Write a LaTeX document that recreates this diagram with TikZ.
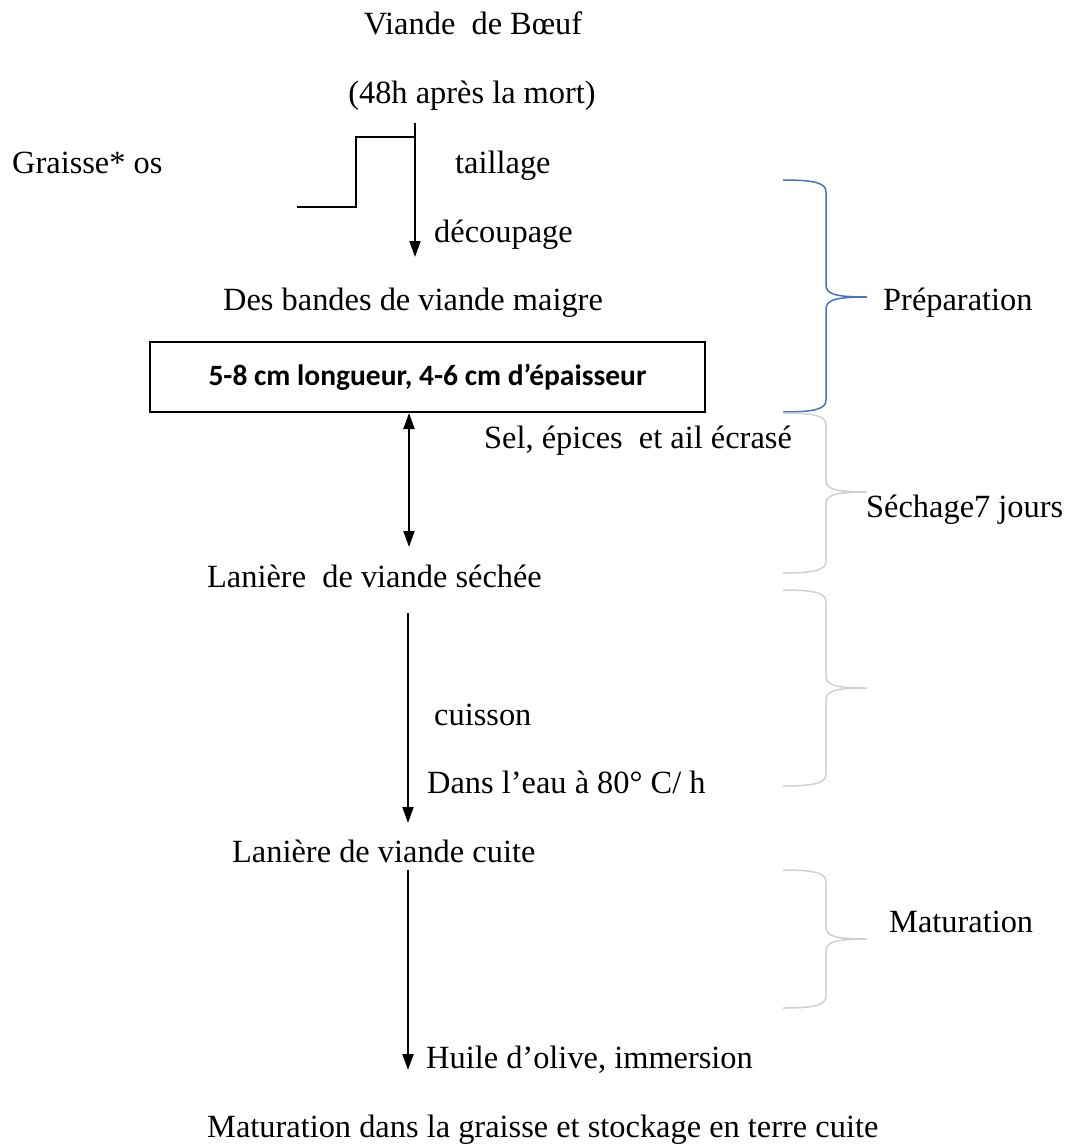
\documentclass[tikz,border=0pt]{standalone}
\usepackage{fontspec}
\setmainfont{Liberation Serif}
\newfontfamily\boxfont{Carlito}
\usetikzlibrary{arrows.meta}
\definecolor{braceblue}{RGB}{68,114,196}
\definecolor{bracegray}{RGB}{208,208,208}
\tikzset{
  lbl/.style={inner sep=0pt, anchor=base west, font=\fontsize{32.4}{38}\selectfont},
  clbl/.style={inner sep=0pt, anchor=base, font=\fontsize{32.4}{38}\selectfont},
  flow/.style={line width=2pt, -{Triangle[length=16pt,width=11pt]}},
  plain/.style={line width=2pt},
  infobox/.style={draw, line width=2pt, minimum width=555pt, minimum height=70pt, inner sep=0pt,
    font=\boxfont\bfseries\fontsize{29.5}{34}\selectfont},
  bluebrace/.style={draw=braceblue, line width=1.5pt},
  graybrace/.style={draw=bracegray, line width=1.5pt}
}
\newcommand{\mybrace}[4]{%
  \draw[#1] (783,#2) .. controls (815,#2) and (826,#2+3) .. (826,#2+12) -- (826,#3-12)
    .. controls (826,#3-3) and (835,#3) .. (867,#3)
    .. controls (835,#3) and (826,#3+3) .. (826,#3+12) -- (826,#4-12)
    .. controls (826,#4-3) and (815,#4) .. (783,#4);}
\begin{document}
\begin{tikzpicture}[x=1pt,y=-1pt]
\useasboundingbox (0,0) rectangle (1068,1145);
% texts
\node[clbl] (beef) at (473,35) {Viande~ de Bœuf};
\node[clbl] (mort) at (472,104) {(48h après la mort)};
\node[lbl] (graisse) at (12,173) {Graisse* os};
\node[lbl] (taillage) at (455,173) {taillage};
\node[lbl] (decoupage) at (434,242) {découpage};
\node[lbl] (bandes) at (223,310) {Des bandes de viande maigre};
\node[infobox] (box) at (427.5,377) {5-8 cm longueur, 4-6 cm d’épaisseur};
\node[lbl] (prep) at (883,310) {Préparation};
\node[lbl] (sel) at (484,448) {Sel, épices~ et ail écrasé};
\node[lbl] (sech) at (866,517) {Séchage7 jours};
\node[lbl] (seche) at (207,587) {Lanière~ de viande séchée};
\node[lbl] (cuisson) at (434,725) {cuisson};
\node[lbl] (eau) at (427,793) {Dans l’eau à 80° C/ h};
\node[lbl] (cuite) at (232,862) {Lanière de viande cuite};
\node[lbl] (matu) at (889,932) {Maturation};
\node[lbl] (huile) at (426,1068) {Huile d’olive, immersion};
\node[lbl] (final) at (207,1137) {Maturation dans la graisse et stockage en terre cuite};
% connectors
\coordinate (a1s) at (415,123);
\coordinate (a1e) at (415,257);
\coordinate (s1) at (415,137);
\coordinate (s2) at (356,137);
\coordinate (s3) at (356,207);
\coordinate (s4) at (297,207);
\coordinate (a2s) at (409,413);
\coordinate (a2e) at (409,547);
\coordinate (a3s) at (408,613);
\coordinate (a3e) at (408,823);
\coordinate (a4s) at (408,870);
\coordinate (a4e) at (408,1070);
\draw[flow] (a1s) -- (a1e);
\draw[plain] (s1) -- (s2) -- (s3) -- (s4);
\draw[line width=2pt, {Triangle[length=16pt,width=11pt]}-{Triangle[length=16pt,width=11pt]}] (a2s) -- (a2e);
\draw[flow] (a3s) -- (a3e);
\draw[flow] (a4s) -- (a4e);
% braces
\mybrace{bluebrace}{180}{297}{412}
\mybrace{graybrace}{413}{492}{573}
\mybrace{graybrace}{590}{688}{786}
\mybrace{graybrace}{870}{939}{1008}
\end{tikzpicture}
\end{document}
